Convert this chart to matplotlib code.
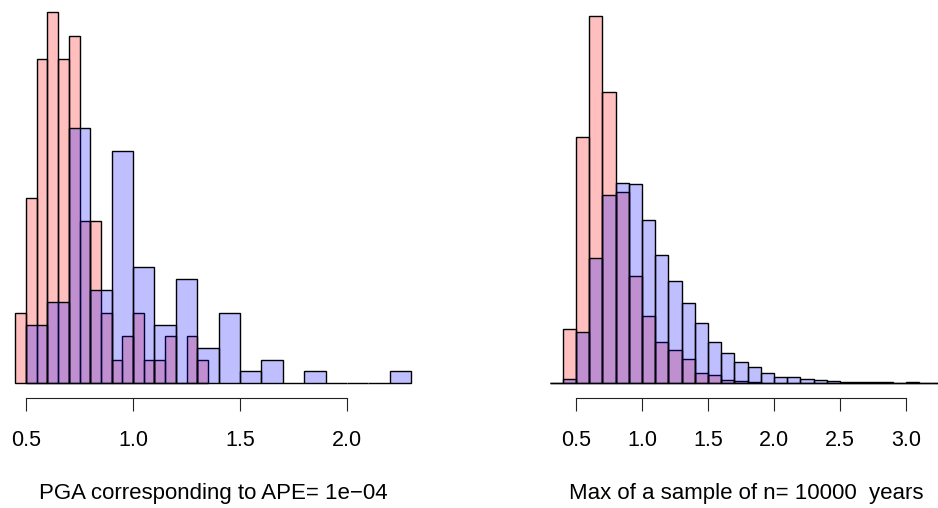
import numpy as np
import matplotlib
matplotlib.use("Agg")
from matplotlib import pyplot as plt

plt.rcParams['font.family'] = ['Liberation Sans', 'DejaVu Sans']

# left panel: counts out of 100 simulations
left_red_edges = np.round(np.arange(0.45, 1.351, 0.05), 2)
left_red_counts = [3, 8, 14, 16, 14, 15, 7, 7, 3, 1, 2, 3, 1, 1, 2, 0, 2, 1]
left_blue_edges = np.round(np.arange(0.5, 2.301, 0.1), 2)
left_blue_counts = [5, 7, 22, 8, 20, 10, 5, 9, 3, 6, 1, 2, 0, 1, 0, 0, 0, 1]
left_ticks = [0.5, 1.0, 1.5, 2.0]

# right panel: densities
right_edges = np.round(np.arange(0.3, 3.301, 0.1), 2)
right_red_dens = [0, 0.373, 1.706, 2.549, 2.019, 1.322, 0.738, 0.463, 0.283, 0.227,
                  0.165, 0.065, 0.055, 0.019, 0.014, 0.004, 0, 0, 0, 0,
                  0, 0, 0, 0, 0, 0, 0, 0, 0, 0]
right_blue_dens = [0, 0.023, 0.349, 0.868, 1.303, 1.389, 1.382, 1.127, 0.887, 0.708,
                   0.556, 0.417, 0.285, 0.203, 0.146, 0.106, 0.065, 0.037, 0.040, 0.026,
                   0.021, 0.009, 0.007, 0.007, 0.005, 0.002, 0.001, 0.002, 0, 0]
right_ticks = [0.5, 1.0, 1.5, 2.0, 2.5, 3.0]

red = (1, 0, 0, 0.25)
blue = (0, 0, 1, 0.25)

W, H = 938, 508
fig = plt.figure(figsize=(W / 100, H / 100), dpi=100)

base = 398  # pixel row of the axis line
ax1 = fig.add_axes([0, (H - base) / H, 470 / W, base / H])
ax2 = fig.add_axes([540 / W, (H - base) / H, 398 / W, base / H])


def density(counts, edges):
    c = np.array(counts, dtype=float)
    return c / (c.sum() * np.diff(edges))


def bars(ax, edges, dens, col):
    ax.bar(edges[:-1], dens, width=np.diff(edges), align='edge', color=col,
           edgecolor='black', linewidth=1.0)


bars(ax1, left_red_edges, density(left_red_counts, left_red_edges), red)
bars(ax1, left_blue_edges, density(left_blue_counts, left_blue_edges), blue)
bars(ax2, right_edges, right_red_dens, red)
bars(ax2, right_edges, right_blue_dens, blue)

# pixel scales: left 214 px per x unit, 115.7 px per density unit
ax1.set_xlim(0.5 - 26 / 214, 0.5 + 444 / 214)
ax1.set_ylim(-(base - 382.7) / 115.7, 382.7 / 115.7)
ax2.set_xlim(0.5 - 36 / 132, 0.5 + 362 / 132)
ax2.set_ylim(-(base - 382.7) / 144, 382.7 / 144)

for ax, ticks in [(ax1, left_ticks), (ax2, right_ticks)]:
    for s in ['top', 'right', 'left']:
        ax.spines[s].set_visible(False)
    ax.spines['bottom'].set_bounds(ticks[0], ticks[-1])
    ax.spines['bottom'].set_linewidth(0.8)
    ax.spines['bottom'].set_color('#222222')
    ax.set_xticks(ticks)
    ax.set_xticklabels([f"{t:.1f}" for t in ticks], va='baseline')
    ax.set_yticks([])
    ax.tick_params(axis='x', direction='out', length=9.4, width=0.8,
                   color='#222222', labelsize=15.5, pad=25.4)
    ax.set_facecolor('none')

ax1.set_xlabel("PGA corresponding to APE= 1e\u221204", fontsize=16, va='baseline')
ax1.xaxis.set_label_coords(213 / 470, -(499.3 - base) / base)
ax2.set_xlabel("Max of a sample of n= 10000  years", fontsize=16, va='baseline')
ax2.xaxis.set_label_coords((745.8 - 540) / 398, -(499.5 - base) / base)

fig.savefig("out.png", dpi=100)
